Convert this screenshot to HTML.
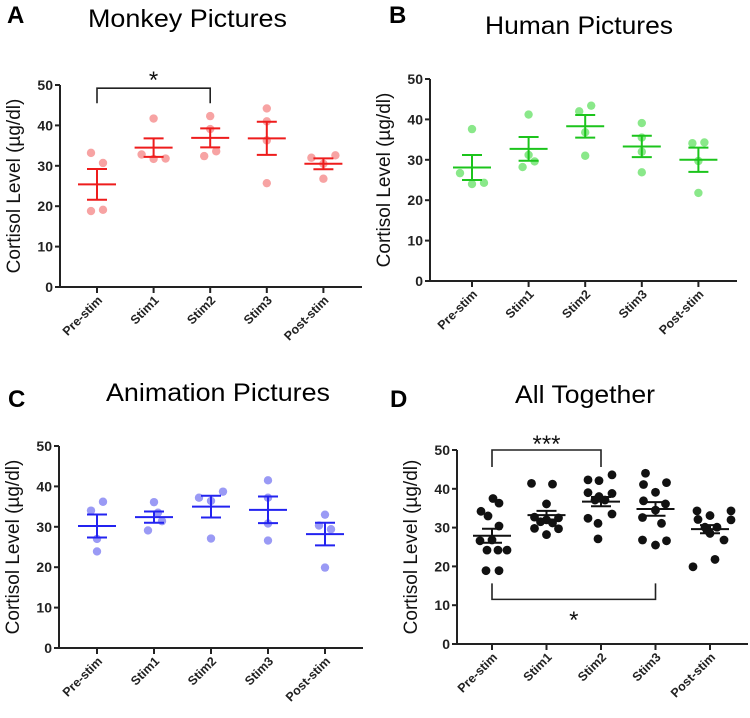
<!DOCTYPE html>
<html><head><meta charset="utf-8"><style>
body{margin:0;background:#fff;width:750px;height:718px;overflow:hidden}
svg{display:block;font-family:"Liberation Sans",Arial,sans-serif}
</style></head><body>
<svg id="fig" width="750" height="718" viewBox="0 0 750 718">
<text x="7" y="23" font-size="24" font-weight="bold">A</text>
<text x="88" y="27" font-size="25" textLength="199" lengthAdjust="spacingAndGlyphs">Monkey Pictures</text>
<text x="389" y="23" font-size="24" font-weight="bold">B</text>
<text x="485" y="34" font-size="25" textLength="188" lengthAdjust="spacingAndGlyphs">Human Pictures</text>
<text x="8" y="407" font-size="24" font-weight="bold">C</text>
<text x="106" y="401" font-size="25" textLength="224" lengthAdjust="spacingAndGlyphs">Animation Pictures</text>
<text x="390" y="407" font-size="24" font-weight="bold">D</text>
<text x="515" y="403" font-size="25" textLength="140" lengthAdjust="spacingAndGlyphs">All Together</text>
</svg>
<script>
const categories = ["Pre-stim","Stim1","Stim2","Stim3","Post-stim"];
const yTicks = [0,10,20,30,40,50];
const monkeyValues = [[33.2,30.7,18.8,19.1],[41.7,32.8,31.7,31.8],[42.3,39.1,32.4,33.6],[44.2,41.0,36.3,25.7],[32.0,32.6,30.5,26.8]];
const monkeyJitter = [[-6,6,-6,6],[0,-12,0,12],[0,0,-6,6],[0,0,0,0],[-12,12,0,0]];
const monkeyMean = [25.4,34.5,36.9,36.8,30.5];
const monkeySem = [3.8,2.3,2.35,4.1,1.35];
const humanValues = [[37.6,26.7,24.0,24.3],[41.2,31.2,29.6,28.2],[42.0,43.4,36.8,31.0],[39.1,35.5,32.0,26.9],[34.1,34.3,29.7,21.8]];
const humanJitter = [[0,-12,0,12],[0,0,6,-6],[-6,6,0,0],[0,0,0,0],[-6,6,0,0]];
const humanMean = [28.1,32.7,38.3,33.3,30.0];
const humanSem = [3.1,2.95,2.8,2.65,3.0];
const animValues = [[34.0,36.2,27.0,23.9],[36.1,33.5,31.4,29.1],[37.2,38.7,36.4,27.1],[41.5,37.2,30.8,26.6],[33.0,30.3,29.4,19.9]];
const animJitter = [[-6,6,0,0],[0,4,8,-6],[-12,12,0,0],[0,0,0,0],[0,-6,6,0]];
const animMean = [30.2,32.4,35.0,34.2,28.2];
const animSem = [2.85,1.4,2.7,3.3,2.8];
const allValues = [
 [34.2,33.0,37.5,36.3,30.4,26.8,26.6,24.2,24.2,24.2,18.9,18.9],
 [41.4,41.2,36.1,32.7,32.5,32.0,31.5,31.2,29.8,29.7,28.2],
 [42.3,42.1,43.6,39.0,38.0,38.8,37.1,37.1,32.4,33.5,31.1,27.1],
 [44.0,41.1,41.6,39.1,36.9,36.1,34.5,32.6,31.1,26.8,26.6,25.5],
 [34.3,33.1,34.3,32.1,32.0,30.1,30.1,28.5,26.8,19.9,21.8,29.3]];
const allJitter = [
 [-11,-4,1,7,7,0,-12,-5,6,15,-6,7],
 [-15,6,0,-12,12,0,-6,6,-12,12,0],
 [-13,-2,11,-13,-2,11,-6,4,-13,11,-3,-3],
 [-10,-12,11,0,-12,10,0,-13,6,-13,11,0],
 [-13,0,21,-12,21,-5,7,0,14,-17,5,-3]];
const allMean = [27.9,33.2,36.7,34.8,29.6];
const allSem = [1.8,1.1,1.2,1.75,1.05];

const NS="http://www.w3.org/2000/svg";
const svg=document.getElementById('fig');
function mk(tag,attrs,parent){const e=document.createElementNS(NS,tag);for(const k in attrs)e.setAttribute(k,attrs[k]);(parent||svg).appendChild(e);return e;}

function panel(id,g0,values,jitter,mean,sem,dotColor,lineColor,r){
  const ax=g0.ax, y0=g0.y0, y50=g0.y50, xEnd=g0.xEnd, cx0=g0.cx0, step=g0.step;
  const yS=v=>y0+(y50-y0)*v/50;
  const xS=i=>cx0+i*step;
  const g=mk('g',{});
  
  
  const yl=mk('line',{x1:ax,y1:y50,x2:ax,y2:y0+1,stroke:'#222','stroke-width':2},g);
  
  
  const xl=mk('line',{x1:ax-1,y1:y0,x2:xEnd,y2:y0,stroke:'#222','stroke-width':2},g);
  
  
  yTicks.forEach(t=>{
    mk('line',{x1:ax-5,y1:yS(t),x2:ax,y2:yS(t),stroke:'#222','stroke-width':2},g);
    const tx=mk('text',{x:ax-7,y:yS(t)+5,'font-size':14,'font-weight':'bold','text-anchor':'end',fill:'#222'},g);
    tx.textContent=t;
    
    
  });
  const lab=mk('text',{x:0,y:0,'font-size':19,'text-anchor':'middle',fill:'#111',transform:`translate(${ax-40},${(y0+y50)/2}) rotate(-90)`},g);
  lab.textContent='Cortisol Level (µg/dl)';
  
  
  categories.forEach((c,i)=>{
    mk('line',{x1:xS(i),y1:y0,x2:xS(i),y2:y0+6,stroke:'#222','stroke-width':2},g);
    const t=mk('text',{x:0,y:0,'font-size':12.5,'font-weight':'bold','text-anchor':'end',fill:'#222',transform:`translate(${xS(i)+6},${y0+14}) rotate(-45)`},g);
    t.textContent=c;
    
    
    values[i].forEach((v,j)=>{
      const d=mk('circle',{cx:xS(i)+jitter[i][j],cy:yS(v),r:r,fill:dotColor},g);
      
      
    });
    const m=mk('line',{x1:xS(i)-19,y1:yS(mean[i]),x2:xS(i)+19,y2:yS(mean[i]),stroke:lineColor,'stroke-width':2},g);
    
    
    const hi=mean[i]+sem[i], lo=mean[i]-sem[i];
    const e=mk('path',{d:`M${xS(i)},${yS(hi)}V${yS(lo)}M${xS(i)-10},${yS(hi)}H${xS(i)+10}M${xS(i)-10},${yS(lo)}H${xS(i)+10}`,stroke:lineColor,'stroke-width':2,fill:'none'},g);
    
    
  });
  return {yS,xS,g};
}
const A=panel('panel-a',{ax:60,y0:287,y50:85,xEnd:362,cx0:97,step:56.6},monkeyValues,monkeyJitter,monkeyMean,monkeySem,'#f7a3a3','#ee1c1c',4.2);
const B=panel('panel-b',{ax:430,y0:281,y50:79,xEnd:737,cx0:472,step:56.6},humanValues,humanJitter,humanMean,humanSem,'#8ae88a','#1cc41c',4.2);
const C=panel('panel-c',{ax:59,y0:648,y50:446,xEnd:363,cx0:97,step:57},animValues,animJitter,animMean,animSem,'#9a9af5','#2323f0',4.2);
const D=panel('panel-d',{ax:457,y0:644,y50:450,xEnd:748,cx0:492,step:54.5},allValues,allJitter,allMean,allSem,'#111','#111',4.4);
function bracket(P,i1,i2,yv,drop,label,ly,name){
  const x1=P.xS(i1),x2=P.xS(i2),y=P.yS(yv);
  const b=mk('path',{d:`M${x1},${y+drop}V${y}H${x2}V${y+drop}`,stroke:'#222','stroke-width':1.6,fill:'none'},P.g);
  
  
  const t=mk('text',{x:(x1+x2)/2,y:ly,'font-size':24,'text-anchor':'middle',fill:'#111'},P.g);
  t.textContent=label;
  
  
}
bracket(A,0,2,49.2,15,'*',88,'significance-bracket-a');
bracket(D,0,2,50,17,'***',452,'significance-bracket-d-top');
bracket(D,0,3,11.5,-16,'*',628,'significance-bracket-d-bottom');
</script>
</body></html>
